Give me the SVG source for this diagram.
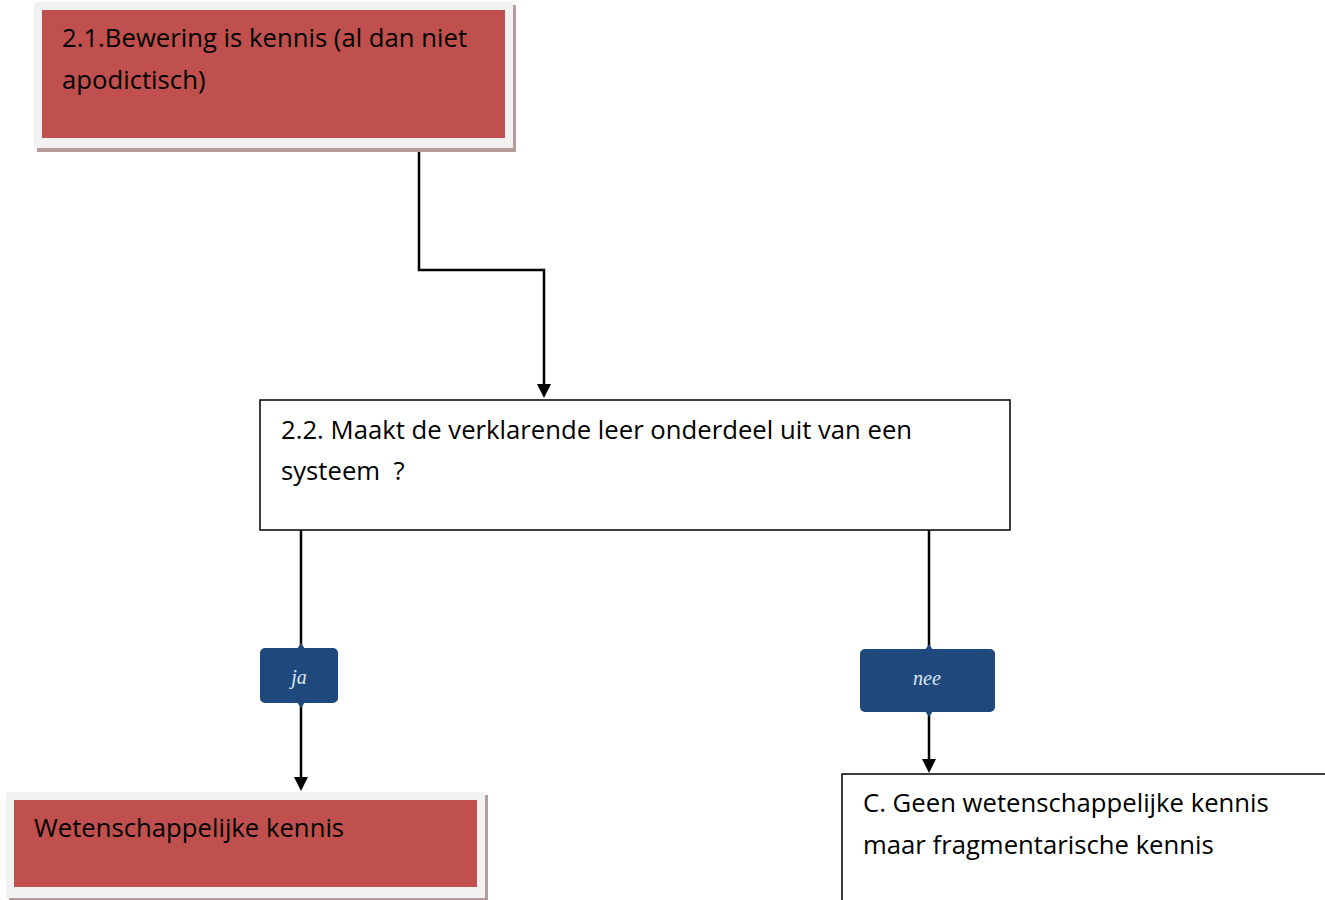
<svg xmlns="http://www.w3.org/2000/svg" width="1325" height="900" viewBox="0 0 1325 900">
<style>
.frame{fill:#f2f2f2}
.shadow{fill:#b79a9a}
.red{fill:#c0504d}
.box{fill:#ffffff;stroke:#000;stroke-width:1.5}
.t{font-family:"Open Sans","Liberation Sans",Arial,sans-serif;font-size:25.7px;fill:#000;white-space:pre}
.lbl{fill:#1f497d}
.lt{font-family:"Liberation Serif","Times New Roman",serif;font-style:italic;font-size:20px;fill:#dce6f2;text-anchor:middle}
.c{fill:none;stroke:#000;stroke-width:2.5}
</style>
<g id="connectors">
<path class="c" d="M419,148 V270 H544 V386"/>
<polygon points="537,384 551,384 544,398"/>
<path class="c" d="M301,530 V648"/>
<path class="c" d="M301,703 V778"/>
<polygon points="294,777 308,777 301,791"/>
<path class="c" d="M929,530 V649"/>
<path class="c" d="M929,712 V760"/>
<polygon points="922,759 936,759 929,773"/>
</g>
<g id="node-21">
<rect class="shadow" x="37" y="5" width="479" height="147"/>
<rect class="frame" x="34" y="2" width="479" height="146"/>
<rect class="red" x="42" y="10" width="463" height="128"/>
<text class="t" x="62" y="47">2.1.Bewering is kennis (al dan niet</text>
<text class="t" x="62" y="89">apodictisch)</text>
</g>
<g id="node-22">
<rect class="box" x="260" y="400" width="750" height="130"/>
<text class="t" x="281" y="439">2.2. Maakt de verklarende leer onderdeel uit van een</text>
<text class="t" x="281" y="480" xml:space="preserve">systeem  ?</text>
</g>
<g id="label-ja">
<rect class="lbl" x="260" y="648" width="78" height="55" rx="5"/>
<polygon class="lbl" points="297,649 301,643 305,649"/>
<polygon class="lbl" points="297,702 301,708 305,702"/>
<text class="lt" x="299" y="684">ja</text>
</g>
<g id="label-nee">
<rect class="lbl" x="860" y="649" width="135" height="63" rx="5"/>
<polygon class="lbl" points="925,650 929,644 933,650"/>
<polygon class="lbl" points="925,711 929,717 933,711"/>
<text class="lt" x="927" y="685">nee</text>
</g>
<g id="node-wk">
<rect class="shadow" x="9" y="795" width="479" height="108"/>
<rect class="frame" x="6" y="792" width="479" height="106"/>
<rect class="red" x="14" y="800" width="463" height="87"/>
<text class="t" x="34" y="837">Wetenschappelijke kennis</text>
</g>
<g id="node-c">
<rect class="box" x="842" y="774" width="490" height="140"/>
<text class="t" x="863" y="812">C. Geen wetenschappelijke kennis</text>
<text class="t" x="863" y="854">maar fragmentarische kennis</text>
</g>
</svg>
